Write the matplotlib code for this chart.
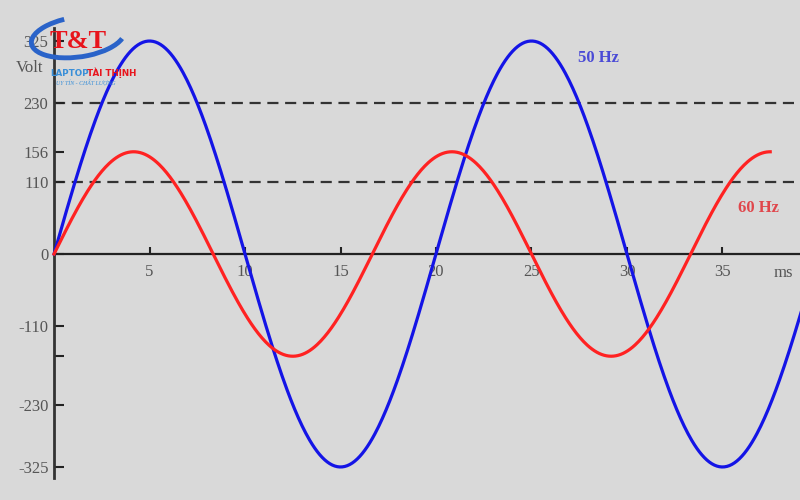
import numpy as np
import matplotlib
matplotlib.use("Agg")
import matplotlib.pyplot as plt
from matplotlib.patches import Arc

# chart data
freqs = [50, 60]                 # Hz
amplitudes = [325, 156]          # peak volts
t_end = [39.3, 37.5]             # ms where each trace stops
curve_labels = ["50 Hz", "60 Hz"]
curve_colors = ["#1414e6", "#ff2222"]
label_colors = ["#4b4bd6", "#e0474c"]
label_pos = [(28.5, 299), (36.9, 70)]

ref_levels = [230, 110]          # dashed lines
xticks = [5, 10, 15, 20, 25, 30, 35]
yticks = [325, 230, 156, 110, 0, -110, -156, -230, -325]
ytick_labels = ["325", "230", "156", "110", "0", "-110", "", "-230", "-325"]

bg = "#d9d9d9"
txt = "#555555"
serif = ["Liberation Serif", "DejaVu Serif"]

fig = plt.figure(figsize=(8, 5), dpi=100, facecolor=bg)
ax = fig.add_axes([0, 0, 1, 1], facecolor=bg)
ax.set_xlim(-2.83, 39.06)
ax.set_ylim(-375.4, 387.6)

for lvl in ref_levels:
    ax.plot([0, 39.06], [lvl, lvl], color="#333333", lw=1.6, dashes=(5, 3), zorder=1)

for f, a, te, col in zip(freqs, amplitudes, t_end, curve_colors):
    t = np.linspace(0, te, 600)
    v = a * np.sin(2 * np.pi * f * t / 1000.0)
    ax.plot(t, v, color=col, lw=2.3, zorder=3)

for lab, col, (x, y) in zip(curve_labels, label_colors, label_pos):
    ax.text(x, y, lab, color=col, fontsize=12, fontweight="bold",
            family=serif, ha="center", va="center")

# axes through the origin
for s in ["top", "right"]:
    ax.spines[s].set_visible(False)
ax.spines["left"].set_position(("data", 0))
ax.spines["bottom"].set_position(("data", 0))
ax.spines["left"].set_bounds(-342, 345)
ax.spines["bottom"].set_bounds(0, 39.06)
ax.spines["left"].set_color("#333333")
ax.spines["bottom"].set_color("#222222")
ax.spines["left"].set_linewidth(2)
ax.spines["bottom"].set_linewidth(1.6)

ax.set_xticks(xticks)
ax.set_xticklabels([str(x) for x in xticks], family=serif, fontsize=12, color=txt)
ax.set_yticks(yticks)
ax.set_yticklabels(ytick_labels, family=serif, fontsize=12, color=txt)
ax.tick_params(axis="x", direction="in", length=5, width=1.5, color="#222222", pad=7)
ax.tick_params(axis="y", direction="in", length=7, width=1.5, color="#222222", pad=4)

ax.text(-2.0, 284, "Volt", family=serif, fontsize=12, color=txt, ha="left", va="center")
ax.text(38.2, -29, "ms", family=serif, fontsize=12, color=txt, ha="center", va="center")

# watermark logo (pixel coordinates)
lg = fig.add_axes([0, 0, 1, 1])
lg.set_xlim(0, 800)
lg.set_ylim(500, 0)
lg.axis("off")
lg.patch.set_alpha(0)
lg.add_patch(Arc((78, 37), 94, 40, angle=-8, theta1=10, theta2=240,
                 color="#2a63c9", lw=3.5))
lg.text(78, 41, "T&T", color="#e8141c", fontsize=19, fontweight="bold",
        family=serif, ha="center", va="center")
lg.text(50, 73, "LAPTOP", color="#3a8fd8", fontsize=6.3, fontweight="bold",
        ha="left", va="center")
lg.text(87, 73, "TÀI THỊNH", color="#e8141c", fontsize=6.3, fontweight="bold",
        ha="left", va="center")
lg.text(86, 83, "UY TÍN - CHẤT LƯỢNG", color="#3a8fd8", fontsize=4.2,
        family=serif, style="italic", ha="center", va="center")

fig.savefig("out.png", dpi=100, facecolor=bg)
